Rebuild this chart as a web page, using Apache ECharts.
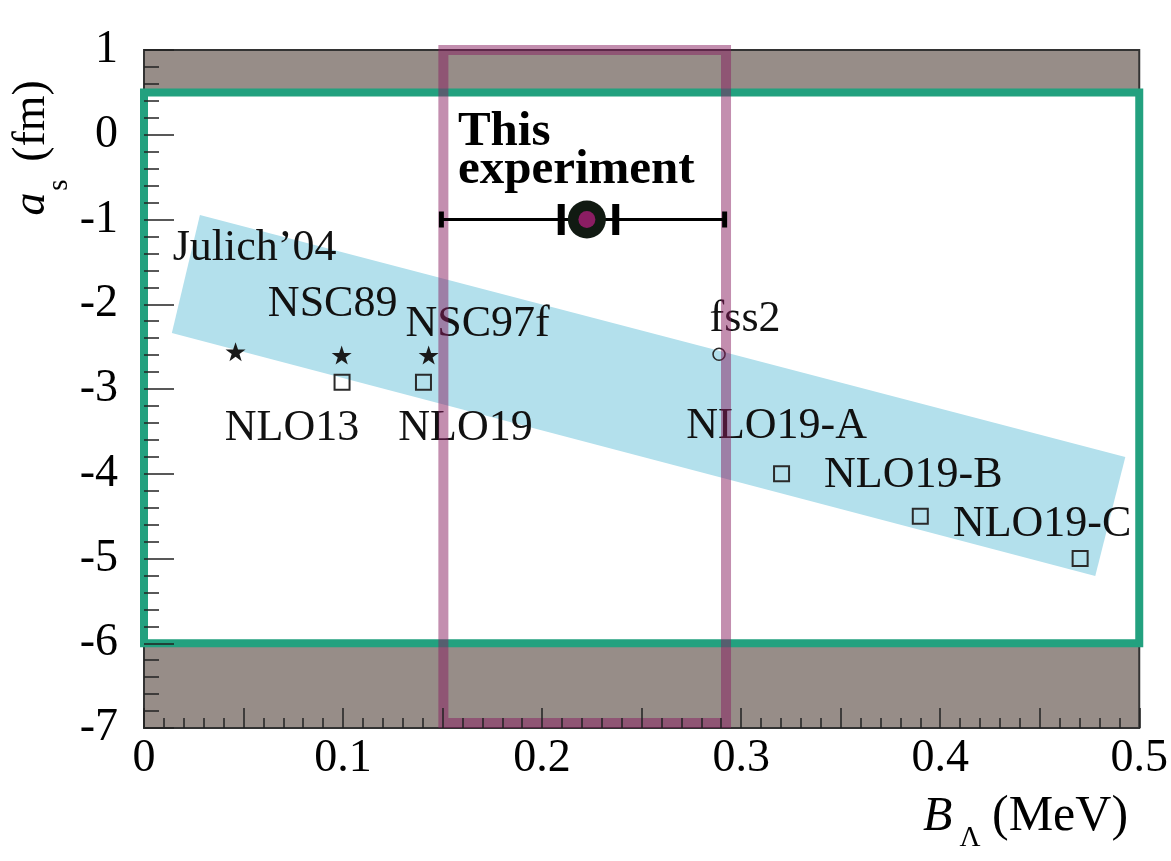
<!DOCTYPE html>
<html>
<head>
<meta charset="utf-8">
<script src="https://cdn.jsdelivr.net/npm/echarts@6/dist/echarts.min.js"></script>
<style>
html,body{margin:0;padding:0;background:#fff;}
#chart{width:1171px;height:861px;}
</style>
</head>
<body>
<div id="chart"></div>
<script>
// ---------------- data ----------------
const starNames = ['Julich\u201904', 'NSC89', 'NSC97f'];
const starX = [0.046, 0.0993, 0.143];
const starY = [-2.56, -2.60, -2.60];

const squareNames = ['NLO13', 'NLO19', 'NLO19-A', 'NLO19-B', 'NLO19-C'];
const squareX = [0.0995, 0.1404, 0.3203, 0.390, 0.4703];
const squareY = [-2.92, -2.92, -4.0, -4.5, -5.0];

const circleNames = ['fss2'];
const circleX = [0.2889];
const circleY = [-2.59];

const expX = [0.2225];
const expY = [-1.0];
const expStatLo = [0.2096];
const expStatHi = [0.2370];
const expSysLo = [0.1494];
const expSysHi = [0.2917];

const bandX = [0.0281, 0.4930, 0.4779, 0.0140];
const bandY = [-0.947, -3.802, -5.206, -2.339];

const greenBoxX = [0, 0.5];
const greenBoxY = [-6, 0.5];
const pinkBoxX = [0.1504, 0.2924];
const pinkBoxY = [-6.94, 1.0];

const xMin = 0, xMax = 0.5, xStep = 0.05;
const yMin = -7, yMax = 1, yStep = 1;

// ---------------- styles ----------------
const SERIF = 'Liberation Serif';
const labelOffsets = {
  'Julich\u201904': [19, -103],
  'NSC89': [-9, -51],
  'NSC97f': [49, -31],
  'NLO13': [-50, 46],
  'NLO19': [42, 46],
  'fss2': [26, -35],
  'NLO19-A': [-5, -47],
  'NLO19-B': [-7, -41],
  'NLO19-C': [-38, -34]
};
const STAR = 'path://M50,0 L61.8,35.1 L98.1,35.1 L68.8,56.7 L79.4,90.5 L50,69.6 L20.6,90.5 L31.2,56.7 L1.9,35.1 L38.2,35.1 Z';

function pointData(names, xs, ys) {
  return names.map((n, i) => ({
    name: n,
    value: [xs[i], ys[i]],
    label: { offset: labelOffsets[n] }
  }));
}
const labelStyle = {
  show: true,
  position: 'inside',
  formatter: '{b}',
  fontFamily: SERIF,
  fontSize: 44,
  color: '#111',
  align: 'center',
  verticalAlign: 'middle'
};

const chart = echarts.init(document.getElementById('chart'), null, { renderer: 'canvas' });

const option = {
  animation: false,
  backgroundColor: '#ffffff',
  grid: {
    left: 144, top: 50, width: 997, height: 678,
    show: true,
    backgroundColor: '#978d88',
    borderColor: '#333333',
    borderWidth: 2
  },
  xAxis: {
    type: 'value', min: xMin, max: xMax, interval: xStep, z: 10,
    axisLine: { show: false, onZero: false },
    splitLine: { show: false },
    axisTick: { show: true, inside: true, length: 20, lineStyle: { color: '#222', width: 1.5 } },
    minorTick: { show: true, splitNumber: 5, length: 10, lineStyle: { color: '#222', width: 1.5 } },
    axisLabel: {
      margin: 8, fontFamily: SERIF, fontSize: 46, color: '#000',
      showMinLabel: true, showMaxLabel: true,
      formatter: function (v) {
        const t = Math.round(v * 100);
        if (t % 10 !== 0) return '';
        return t === 0 ? '0' : (t / 100).toString();
      }
    }
  },
  yAxis: {
    type: 'value', min: yMin, max: yMax, interval: yStep, z: 10,
    axisLine: { show: false, onZero: false },
    splitLine: { show: false },
    axisTick: { show: true, inside: true, length: 30, lineStyle: { color: '#222', width: 1.5 } },
    minorTick: { show: true, splitNumber: 5, length: 15, lineStyle: { color: '#222', width: 1.5 } },
    axisLabel: { margin: 26, fontFamily: SERIF, fontSize: 46, color: '#000' }
  },
  graphic: [
    // y-axis title: a_s (fm), rotated
    { type: 'text', x: 32, y: 204, rotation: Math.PI / 2, z: 20,
      style: { text: 'a', fontFamily: SERIF, fontStyle: 'italic', fontSize: 46, fill: '#000', align: 'center', verticalAlign: 'middle' } },
    { type: 'text', x: 59, y: 185, rotation: Math.PI / 2, z: 20,
      style: { text: 's', fontFamily: SERIF, fontSize: 29, fill: '#000', align: 'center', verticalAlign: 'middle' } },
    { type: 'text', x: 32, y: 121, rotation: Math.PI / 2, z: 20,
      style: { text: '(fm)', fontFamily: SERIF, fontSize: 46, fill: '#000', align: 'center', verticalAlign: 'middle' } },
    // x-axis title: B_Λ (MeV)
    { type: 'text', x: 923, y: 817, z: 20,
      style: { text: 'B', fontFamily: SERIF, fontStyle: 'italic', fontSize: 48, fill: '#000', align: 'left', verticalAlign: 'middle' } },
    { type: 'text', x: 970, y: 838, z: 20,
      style: { text: '\u039B', fontFamily: SERIF, fontSize: 29, fill: '#000', align: 'center', verticalAlign: 'middle' } },
    { type: 'text', x: 992, y: 817, z: 20,
      style: { text: '(MeV)', fontFamily: SERIF, fontSize: 50, fill: '#000', align: 'left', verticalAlign: 'middle' } }
  ],
  series: [
    { // white interior of green box
      type: 'custom', z: 1, silent: true,
      data: [[greenBoxX[0], greenBoxY[0], greenBoxX[1], greenBoxY[1]]],
      renderItem: function (params, api) {
        const a = api.coord([api.value(0), api.value(3)]);
        const b = api.coord([api.value(2), api.value(1)]);
        return { type: 'rect', shape: { x: a[0], y: a[1], width: b[0] - a[0], height: b[1] - a[1] },
                 style: { fill: '#ffffff' } };
      }
    },
    { // blue band
      type: 'custom', z: 2, silent: true,
      data: bandX.map((x, i) => [x, bandY[i]]),
      renderItem: function (params, api) {
        if (params.dataIndex !== 0) return null;
        const pts = bandX.map((x, i) => api.coord([x, bandY[i]]));
        return { type: 'polygon', shape: { points: pts }, style: { fill: '#b3e0ec' } };
      }
    },
    { // green box border
      type: 'custom', z: 3, silent: true,
      data: [[greenBoxX[0], greenBoxY[0], greenBoxX[1], greenBoxY[1]]],
      renderItem: function (params, api) {
        const a = api.coord([api.value(0), api.value(3)]);
        const b = api.coord([api.value(2), api.value(1)]);
        return { type: 'rect', shape: { x: a[0], y: a[1], width: b[0] - a[0], height: b[1] - a[1] },
                 style: { fill: 'none', stroke: '#23a17f', lineWidth: 8 } };
      }
    },
    { // stars
      type: 'scatter', z: 5, name: 'NSC/Julich', symbol: STAR, symbolSize: [20, 19],
      itemStyle: { color: '#1a1a1a', opacity: 1 },
      label: labelStyle,
      data: pointData(starNames, starX, starY)
    },
    { // squares
      type: 'scatter', z: 5, name: 'NLO', symbol: 'rect', symbolSize: 15,
      itemStyle: { color: 'rgba(255,255,255,0)', borderColor: '#2a2a2a', borderWidth: 2, opacity: 1 },
      label: labelStyle,
      data: pointData(squareNames, squareX, squareY)
    },
    { // fss2 circle
      type: 'scatter', z: 5, name: 'fss2', symbol: 'circle', symbolSize: 12,
      itemStyle: { color: 'rgba(255,255,255,0)', borderColor: '#2a2a2a', borderWidth: 1.6, opacity: 1 },
      label: labelStyle,
      data: pointData(circleNames, circleX, circleY)
    },
    { // pink box border
      type: 'custom', z: 6, silent: true,
      data: [[pinkBoxX[0], pinkBoxY[0], pinkBoxX[1], pinkBoxY[1]]],
      renderItem: function (params, api) {
        const a = api.coord([api.value(0), api.value(3)]);
        const b = api.coord([api.value(2), api.value(1)]);
        return { type: 'rect', shape: { x: a[0], y: a[1], width: b[0] - a[0], height: b[1] - a[1] },
                 style: { fill: 'none', stroke: 'rgba(135,30,95,0.5)', lineWidth: 10 } };
      }
    },
    { // experiment error bars
      type: 'custom', z: 7, silent: true,
      data: expX.map((x, i) => [x, expY[i], expSysLo[i], expSysHi[i], expStatLo[i], expStatHi[i]]),
      renderItem: function (params, api) {
        const y = api.value(1);
        const s0 = api.coord([api.value(2), y]);
        const s1 = api.coord([api.value(3), y]);
        const t0 = api.coord([api.value(4), y]);
        const t1 = api.coord([api.value(5), y]);
        const cy = s0[1];
        return { type: 'group', children: [
          { type: 'line', shape: { x1: s0[0], y1: cy, x2: s1[0], y2: cy }, style: { stroke: '#000', lineWidth: 3 } },
          { type: 'rect', shape: { x: s0[0] - 2.5, y: cy - 8, width: 5, height: 16 }, style: { fill: '#000' } },
          { type: 'rect', shape: { x: s1[0] - 2.5, y: cy - 8, width: 5, height: 16 }, style: { fill: '#000' } },
          { type: 'rect', shape: { x: t0[0] - 3.5, y: cy - 15.5, width: 7, height: 31 }, style: { fill: '#000' } },
          { type: 'rect', shape: { x: t1[0] - 3.5, y: cy - 15.5, width: 7, height: 31 }, style: { fill: '#000' } }
        ] };
      }
    },
    { // experiment marker outer + label
      type: 'scatter', z: 8, name: 'This experiment', symbol: 'circle', symbolSize: 38,
      itemStyle: { color: '#111a12', opacity: 1 },
      label: {
        show: true, position: 'inside', align: 'left', verticalAlign: 'middle',
        offset: [-129, -68.5],
        formatter: '{t|This}\n{t|experiment}',
        rich: { t: { fontFamily: SERIF, fontWeight: 'bold', fontSize: 49, lineHeight: 38, color: '#000', align: 'left' } }
      },
      data: expX.map((x, i) => [x, expY[i]])
    },
    { // experiment marker inner dot
      type: 'scatter', z: 9, symbol: 'circle', symbolSize: 17,
      itemStyle: { color: '#8b1d63', opacity: 1 },
      data: expX.map((x, i) => [x, expY[i]])
    }
  ]
};
chart.setOption(option);
</script>
</body>
</html>
